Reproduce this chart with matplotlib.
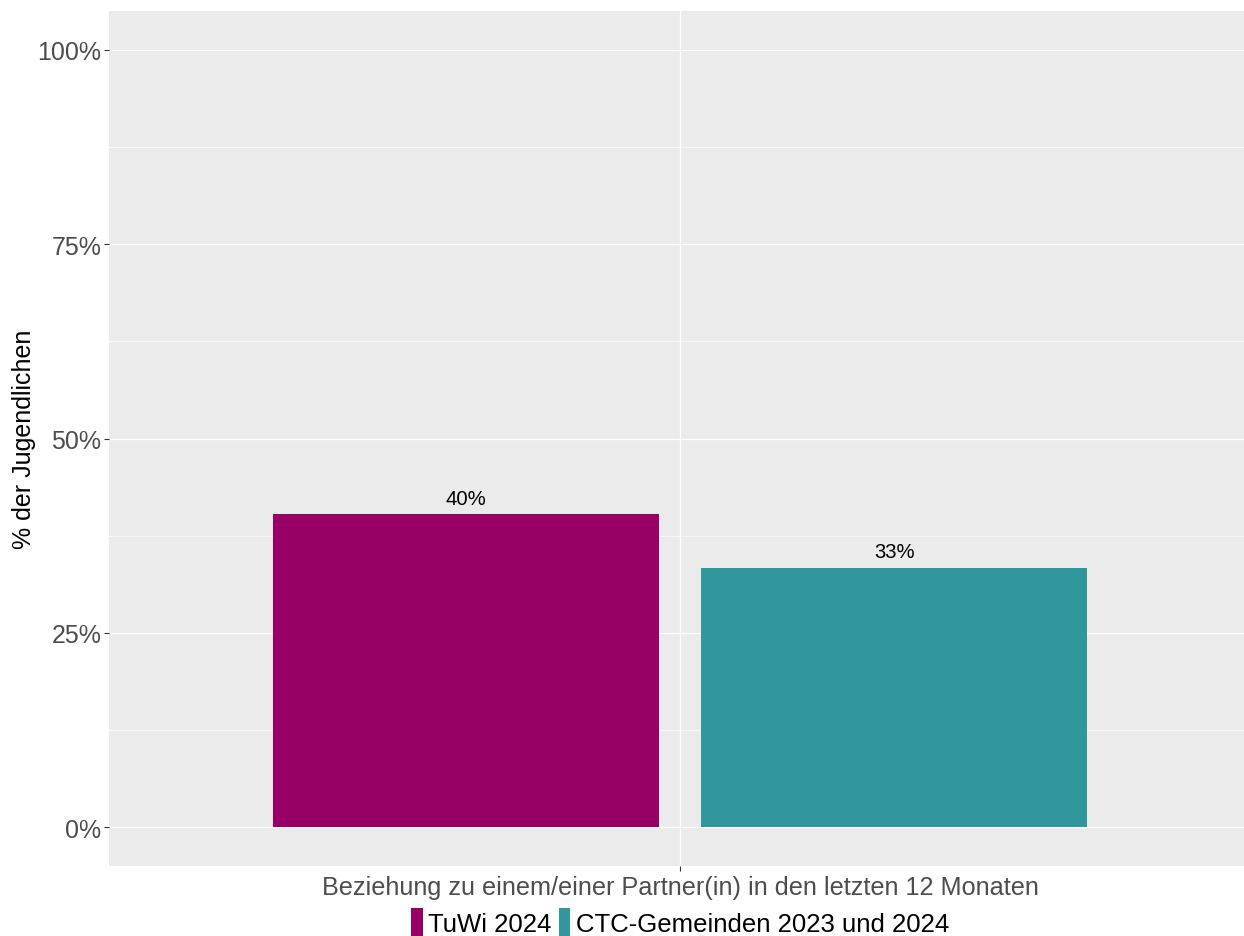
import matplotlib
matplotlib.use("Agg")
import matplotlib.pyplot as plt
from matplotlib.patches import Patch
from matplotlib.ticker import FixedLocator

plt.rcParams['font.family'] = ['Liberation Sans', 'DejaVu Sans']

category = "Beziehung zu einem/einer Partner(in) in den letzten 12 Monaten"
groups = ["TuWi 2024", "CTC-Gemeinden 2023 und 2024"]
values = [40.3, 33.4]
labels = ["40%", "33%"]
colors = ["#990066", "#31979C"]
yticks = [0, 25, 50, 75, 100]
yticklabels = ["0%", "25%", "50%", "75%", "100%"]

W, H = 1244, 937
fig = plt.figure(figsize=(W / 100, H / 100), dpi=100)
ax = fig.add_axes([109 / W, 1 - 867 / H, (1251 - 109) / W, (867 - 12) / H])
ax.set_facecolor("#EBEBEB")

offsets = [-0.225, 0.225]
width = 0.405
for off, v, lab, c in zip(offsets, values, labels, colors):
    ax.bar(1 + off, v, width=width, color=c, zorder=3)
    ax.text(1 + off, v + 0.8, lab, ha="center", va="bottom", fontsize=14.6,
            color="black", zorder=4)

ax.set_xlim(0.4, 1.6)
ax.set_ylim(-5, 105)
ax.set_yticks(yticks)
ax.set_yticklabels(yticklabels)
ax.yaxis.set_minor_locator(FixedLocator([12.5, 37.5, 62.5, 87.5]))
ax.set_xticks([1])
ax.set_xticklabels([])
ax.grid(True, which="major", color="white", linewidth=0.9, zorder=1)
ax.grid(True, which="minor", axis="y", color="white", linewidth=0.45, zorder=1)
for s in ax.spines.values():
    s.set_visible(False)
ax.tick_params(axis="both", which="major", length=3.5, width=0.8, color="#333333",
               labelsize=18, labelcolor="#4D4D4D", pad=2)
ax.tick_params(axis="y", which="minor", length=0)

ax.set_ylabel("% der Jugendlichen", fontsize=18, color="black", labelpad=1)
ax.set_xlabel(category, fontsize=18.2, color="#4D4D4D", labelpad=1)

handles = [Patch(facecolor=c, edgecolor="none") for c in colors]
fig.legend(handles, groups, loc="center", bbox_to_anchor=(680 / W, 1 - 923 / H),
           ncol=2, frameon=False, fontsize=18.5, handlelength=0.45, handleheight=1.3,
           handletextpad=0.2, columnspacing=0.3, borderpad=0)

fig.savefig("out.png", dpi=100, facecolor="white")
